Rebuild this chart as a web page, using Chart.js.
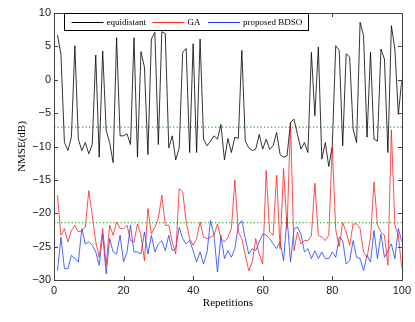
<!DOCTYPE html>
<html lang="en">
<head>
<meta charset="UTF-8">
<title>NMSE vs Repetitions</title>
<script src="https://cdn.jsdelivr.net/npm/chart.js"></script>
<style>
  html, body { margin: 0; padding: 0; background: #fff; }
  canvas { display: block; }
</style>
</head>
<body>
<canvas id="nmseChart" width="415" height="322"></canvas>
<script>
  // x axis: repetition index 1..100
  const repetitions = Array.from({ length: 100 }, (_, i) => i + 1);

  const equidistant = [
    6.7, 3.8, -9.4, -10.6, -8.6, 5.1, -8.9, -10.6, -9.4, -11.1,
    -9.7, 3.7, -11.6, 4.3, -7.6, -9.4, -12.4, 6.3, -8.4, -8.4,
    -8.1, -9.7, 6.3, -11.6, 4.2, 1.9, -11.2, 6.1, 7.1, -9.7,
    7.2, 6.9, -10.2, -8.4, -12.0, -10.2, 4.1, 4.7, -10.9, 5.4,
    -10.9, 6.1, -8.9, -9.9, -9.2, -8.4, -8.9, -6.7, -12.0, -8.8,
    -10.9, -8.6, -8.8, 4.4, -9.2, -10.2, -10.6, -10.4, -8.2, -10.4,
    -8.9, -10.4, -9.9, -7.9, -11.2, -11.6, -11.4, -6.4, -5.9, -8.2,
    -10.4, -9.4, -10.9, 4.1, -5.4, 4.9, -11.9, -9.4, -13.0, -10.0,
    5.1, 4.4, -9.9, 3.9, 3.4, -7.4, -9.4, 8.6, 6.6, -8.6,
    4.1, -8.9, -9.2, 4.6, 3.1, -10.9, 8.1, 4.6, -5.2, 0.0
  ];

  const ga = [
    -17.3, -23.3, -22.3, -24.3, -22.6, -21.8, -22.8, -22.6, -22.1, -16.6,
    -20.3, -24.3, -26.6, -22.3, -27.8, -21.8, -23.3, -21.3, -22.3, -22.3,
    -21.8, -24.1, -24.3, -21.6, -23.3, -27.1, -19.3, -23.1, -22.1, -20.8,
    -17.3, -21.8, -21.8, -24.3, -26.1, -16.3, -16.8, -21.3, -23.8, -24.8,
    -23.8, -21.3, -23.6, -23.8, -23.6, -23.3, -21.6, -23.8, -24.3, -23.6,
    -22.3, -15.0, -22.8, -23.8, -26.3, -28.6, -27.3, -23.8, -26.1, -27.6,
    -13.6, -22.8, -23.3, -14.3, -25.3, -13.3, -22.3, -6.5, -25.6, -22.8,
    -24.6, -24.1, -24.1, -23.4, -15.5, -23.3, -23.6, -24.1, -23.3, -10.1,
    -22.5, -25.0, -21.4, -22.8, -24.8, -21.6, -21.6, -22.3, -25.8, -26.6,
    -23.6, -15.3, -21.8, -22.8, -23.3, -27.8, -7.5, -21.8, -23.3, -28.3
  ];

  const bdso = [
    -28.6, -23.6, -28.3, -28.3, -26.3, -26.8, -27.3, -22.3, -24.6, -24.3,
    -24.8, -25.8, -27.8, -23.1, -29.1, -23.8, -25.8, -26.1, -23.3, -27.3,
    -25.8, -21.8, -25.8, -25.8, -26.1, -22.8, -26.1, -23.3, -25.8, -24.6,
    -24.1, -25.6, -23.3, -25.6, -25.3, -22.1, -23.8, -24.6, -24.1, -25.6,
    -27.3, -25.8, -27.6, -25.8, -21.1, -23.3, -28.8, -23.3, -26.8, -25.6,
    -26.6, -25.3, -21.8, -21.1, -23.8, -26.1, -25.3, -25.6, -24.3, -23.1,
    -23.3, -23.8, -24.6, -25.3, -24.3, -27.1, -20.6, -27.3, -22.3, -22.1,
    -23.1, -25.8, -25.3, -26.8, -25.6, -26.8, -25.8, -26.8, -26.8, -25.8,
    -26.6, -23.6, -24.1, -27.6, -27.1, -24.1, -26.6, -26.8, -28.6, -26.3,
    -27.3, -22.6, -26.8, -23.1, -26.6, -25.6, -24.6, -26.8, -22.3, -24.3
  ];

  // mean levels (green dotted lines)
  const meanLevels = [-7.1, -21.4];

  const xTicks = [0, 20, 40, 60, 80, 100];
  const yTicks = [10, 5, 0, -5, -10, -15, -20, -25, -30];

  const seriesNames = ['equidistant', 'GA', 'proposed BDSO'];
  const seriesColors = ['#000000', '#ff2020', '#2040ff'];

  const toPoints = arr => arr.map((v, i) => ({ x: repetitions[i], y: v }));
  const minus = v => String(v).replace('-', '\u2212');

  const datasets = [equidistant, ga, bdso].map((arr, i) => ({
    label: seriesNames[i],
    data: toPoints(arr),
    borderColor: seriesColors[i],
    borderWidth: 0.8
  }));
  meanLevels.forEach(level => {
    datasets.push({
      label: 'mean',
      data: [{ x: 0, y: level }, { x: 100, y: level }],
      borderColor: 'rgb(60,175,60)',
      borderWidth: 1.3,
      borderDash: [1.3, 2.2]
    });
  });

  // box around the plot with inward ticks on all four sides
  const frameTicks = {
    id: 'frameTicks',
    afterDatasetsDraw(chart) {
      const { ctx, chartArea: a, scales: { x, y } } = chart;
      ctx.save();
      ctx.strokeStyle = '#404040';
      ctx.lineWidth = 1;
      ctx.beginPath();
      xTicks.forEach(v => {
        const px = Math.round(x.getPixelForValue(v)) + 0.5;
        ctx.moveTo(px, a.bottom); ctx.lineTo(px, a.bottom - 4);
        ctx.moveTo(px, a.top); ctx.lineTo(px, a.top + 4);
      });
      yTicks.forEach(v => {
        const py = Math.round(y.getPixelForValue(v)) + 0.5;
        ctx.moveTo(a.left, py); ctx.lineTo(a.left + 4, py);
        ctx.moveTo(a.right, py); ctx.lineTo(a.right - 4, py);
      });
      ctx.stroke();
      ctx.strokeRect(Math.round(a.left) + 0.5, Math.round(a.top) + 0.5,
        Math.round(a.right - a.left), Math.round(a.bottom - a.top));
      ctx.restore();
    }
  };

  // MATLAB-style legend box in the top of the plot
  const boxLegend = {
    id: 'boxLegend',
    afterDraw(chart) {
      const { ctx, chartArea: a } = chart;
      const left = a.left + 10, top = Math.round(a.top) + 0.5;
      const width = 244, height = 17;
      ctx.save();
      ctx.fillStyle = '#fff';
      ctx.fillRect(left, top, width, height);
      ctx.strokeStyle = '#000';
      ctx.lineWidth = 1;
      ctx.strokeRect(Math.round(left) + 0.5, top, width, height);
      const midY = Math.round(top + height / 2) + 0.5;
      const lineStarts = [7.5, 88.5, 144];
      ctx.font = '9px "Liberation Serif", "Times New Roman", serif';
      ctx.textBaseline = 'middle';
      seriesNames.forEach((name, i) => {
        const x0 = left + lineStarts[i];
        ctx.strokeStyle = seriesColors[i];
        ctx.lineWidth = 1;
        ctx.beginPath();
        ctx.moveTo(x0, midY);
        ctx.lineTo(x0 + 32, midY);
        ctx.stroke();
        ctx.fillStyle = '#000';
        ctx.fillText(name, x0 + 35, midY);
      });
      ctx.restore();
    }
  };

  new Chart(document.getElementById('nmseChart'), {
    type: 'line',
    data: { datasets },
    options: {
      responsive: false,
      animation: false,
      devicePixelRatio: 1,
      layout: { padding: { top: 13, right: 13, left: 0, bottom: 0 } },
      elements: { point: { radius: 0 }, line: { tension: 0 } },
      plugins: { legend: { display: false }, tooltip: { enabled: false } },
      scales: {
        x: {
          type: 'linear',
          min: 0,
          max: 100,
          afterBuildTicks: s => { s.ticks = xTicks.map(v => ({ value: v })); },
          afterFit: s => { s.height = 42; },
          grid: { display: false, drawTicks: false },
          border: { display: false },
          ticks: {
            padding: 4,
            color: '#1a1a1a',
            font: { family: '"Liberation Sans", Arial, sans-serif', size: 11 },
            maxRotation: 0,
            callback: v => minus(v)
          },
          title: {
            display: true,
            text: 'Repetitions',
            color: '#000',
            font: { family: '"Liberation Serif", "Times New Roman", serif', size: 11 },
            padding: { top: 0, bottom: 12.7 }
          }
        },
        y: {
          min: -30,
          max: 10,
          afterBuildTicks: s => { s.ticks = yTicks.map(v => ({ value: v })); },
          afterFit: s => { s.width = 54; },
          grid: { display: false, drawTicks: false },
          border: { display: false },
          ticks: {
            padding: 3,
            color: '#1a1a1a',
            font: { family: '"Liberation Sans", Arial, sans-serif', size: 11 },
            callback: v => minus(v)
          },
          title: {
            display: true,
            text: 'NMSE(dB)',
            color: '#000',
            font: { family: '"Liberation Serif", "Times New Roman", serif', size: 11 },
            padding: { top: 16, bottom: 0 }
          }
        }
      }
    },
    plugins: [frameTicks, boxLegend]
  });
</script>
</body>
</html>
